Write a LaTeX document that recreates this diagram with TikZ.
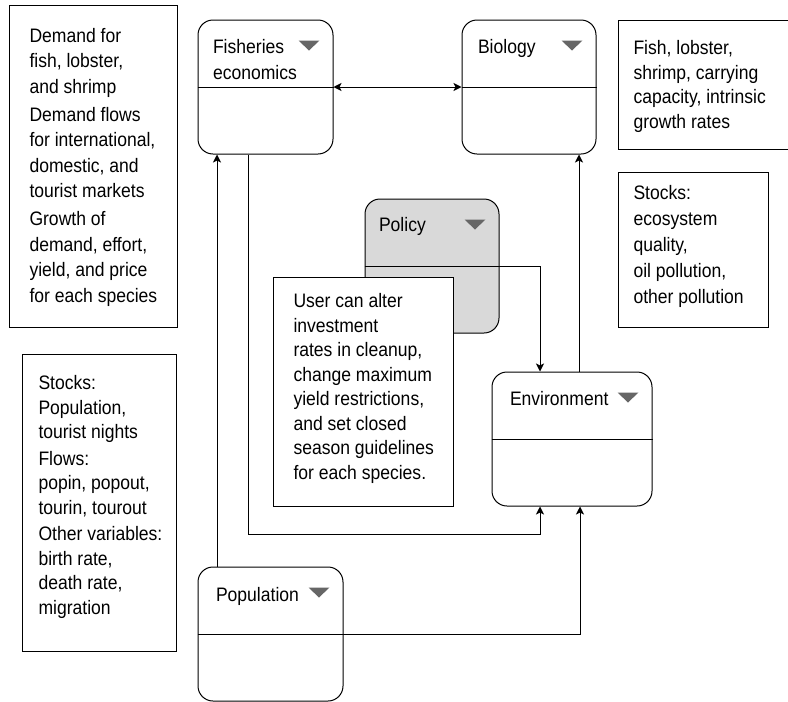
\documentclass[tikz,border=0pt]{standalone}
\usepackage{fontspec}
\setmainfont{Liberation Sans}[FakeStretch=0.9]
\usepackage{xcolor}
\usepackage{tikz}
\usetikzlibrary{positioning, arrows.meta, calc}

\definecolor{policygray}{HTML}{D9D9D9}
\definecolor{trigray}{HTML}{666666}

\begin{document}
\begin{tikzpicture}[x=1pt, y=1pt, line width=1pt,
          >={Stealth[length=8pt, width=8pt, inset=2pt]},
          every node/.style={font=\fontsize{19.5}{24.5}\selectfont},
          module/.style={draw, rectangle, rounded corners=15pt, minimum height=134pt, inner sep=0pt},
          note/.style={draw, rectangle, fill=white, anchor=north west, inner sep=0pt},
          notetext/.style={anchor=base west, align=left, inner sep=0pt},
          header/.style={anchor=base west, align=left, inner sep=0pt},
          tri/.style={fill=trigray}]
          \useasboundingbox (0,0) rectangle (788,-702);

          \node[module, minimum width=135pt] (fish) at (265.5,-87) {};
          \node[module, minimum width=134pt] (bio) at (529,-87) {};
          \node[module, minimum width=134pt, fill=policygray] (policy) at (432,-266) {};
          \node[module, minimum width=160pt] (env) at (572,-439) {};
          \node[module, minimum width=145pt] (pop) at (270.5,-634) {};

          \foreach \b in {fish, bio, policy, env, pop} {
            \draw (\b.west) -- (\b.east);
            \fill[tri] ([xshift=-14pt, yshift=-21pt]\b.north east) -- ++(-21,0) -- ++(10.5,-10) -- cycle;
          }

          % multi-line nodes sit on the baseline of their last line
          \node[header] (fishtxt) at ([xshift=15pt, yshift=-60pt]fish.north west) {Fisheries\\[1.5pt]economics};
          \node[header] (biotxt) at ([xshift=16pt, yshift=-34pt]bio.north west) {Biology};
          \node[header] (policytxt) at ([xshift=14pt, yshift=-33pt]policy.north west) {Policy};
          \node[header] (envtxt) at ([xshift=18pt, yshift=-34pt]env.north west) {Environment};
          \node[header] (poptxt) at ([xshift=18pt, yshift=-35pt]pop.north west) {Population};

          \node[note, minimum width=168pt, minimum height=322pt] (demandnote) at (9,-5) {};
          \node[notetext, font=\fontsize{19.5}{25.5}\selectfont] (demandtxt) at (29,-302) {Demand for\\fish, lobster,\\and shrimp\\[2.5pt]Demand flows\\for international,\\domestic, and\\tourist markets\\[2.5pt]Growth of\\demand, effort,\\yield, and price\\for each species};

          \node[note, minimum width=154pt, minimum height=297pt] (popnote) at (22,-354) {};
          \node[notetext] (popnotetxt) at (38,-614) {Stocks:\\Population,\\tourist nights\\[2pt]Flows:\\popin, popout,\\tourin, tourout\\[2pt]Other variables:\\birth rate,\\death rate,\\migration};

          \node[note, minimum width=172pt, minimum height=129pt] (bionote) at (618,-20) {};
          \node[notetext] (bionotetxt) at (633,-128) {Fish, lobster,\\shrimp, carrying\\capacity, intrinsic\\growth rates};

          \node[note, minimum width=150pt, minimum height=155pt] (envnote) at (618,-172) {};
          \node[notetext, font=\fontsize{19.5}{26}\selectfont] (envnotetxt) at (633,-303) {Stocks:\\ecosystem\\quality,\\oil pollution,\\other pollution};

          \node[note, minimum width=180pt, minimum height=229pt] (usernote) at (273,-277) {};
          \node[notetext] (usertxt) at (293,-479) {User can alter\\investment\\rates in cleanup,\\change maximum\\yield restrictions,\\and set closed\\season guidelines\\for each species.};

          \coordinate (fishout) at ([xshift=-17.5pt]fish.south);
          \coordinate (fishin) at ([xshift=-48.5pt]fish.south);
          \coordinate (popup) at ([xshift=-53.5pt]pop.north);
          \coordinate (envinl) at ([xshift=-32pt]env.south);
          \coordinate (envinr) at ([xshift=8pt]env.south);
          \coordinate (envtop) at ([xshift=-32pt]env.north);
          \coordinate (envup) at ([xshift=7pt]env.north);

          \draw[<->] (fish.east) -- (bio.west);
          \draw[->] (fishout) |- ([yshift=-28pt]envinl) -- (envinl);
          \draw[->] (popup) -- (popup |- fishin);
          \draw[->] (pop.east) -| (envinr);
          \draw[->] (policy.east) -| (envtop);
          \draw[->] (envup) -- (envup |- bio.south);
        \end{tikzpicture}
\end{document}
